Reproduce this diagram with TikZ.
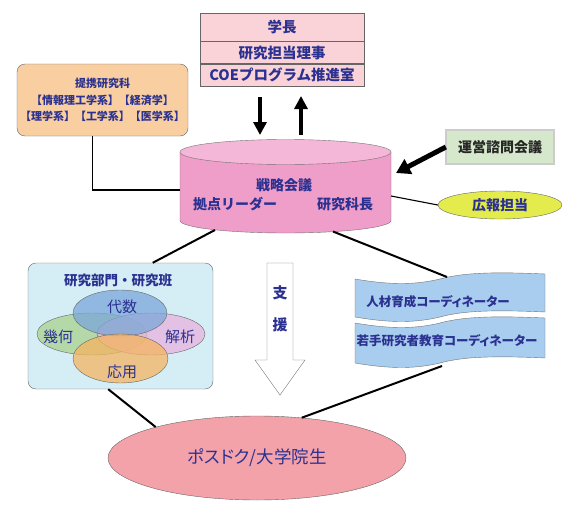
\documentclass[tikz,border=0pt]{standalone}
\usepackage{fontspec}
\setmainfont{Noto Sans CJK JP}
\newfontfamily\propjp{Noto Sans CJK JP}[RawFeature=+palt]
\usetikzlibrary{shapes.geometric,arrows.meta,calc}
\definecolor{navy}{HTML}{2B3190}
\definecolor{toppink}{HTML}{FAD3D8}
\definecolor{peach}{HTML}{F9CFA2}
\definecolor{cylbody}{HTML}{EF9DC9}
\definecolor{cyltop}{HTML}{F5B7D7}
\definecolor{sage}{HTML}{D5E8CB}
\definecolor{lemon}{HTML}{E3EC4C}
\definecolor{paleblue}{HTML}{D5EEF5}
\definecolor{tapeblue}{HTML}{A8CDEE}
\definecolor{salmon}{HTML}{F4A2A9}
\definecolor{vblue}{HTML}{7BA7D9}
\definecolor{vgreen}{HTML}{A9D18E}
\definecolor{vpink}{HTML}{E9B3DF}
\definecolor{vorange}{HTML}{F5B461}
\begin{document}
\begin{tikzpicture}[x=1pt,y=-1pt,
  jp/.style={text=navy,inner sep=0pt,font=\bfseries\fontsize{#1}{#1}\selectfont},
  jp/.default=14,
  rowbox/.style={draw=black!60,fill=toppink,minimum width=164pt,anchor=north,jp=14.5},
  rbox/.style={draw=black!60,rounded corners=8pt,inner sep=0pt},
  venn/.style={draw=black!60,fill opacity=0.75},
  fat/.style={line width=3.3pt,-{Triangle[length=13pt,width=13pt]}},
  link/.style={line width=2pt},
  thin link/.style={line width=1.1pt}]
\useasboundingbox (0,0) rectangle (574,525);
% top office
\node[rowbox,minimum height=28pt] (gakucho) at (282,13) {学長};
\node[rowbox,minimum height=22pt] (riji) at (gakucho.south) {研究担当理事};
\node[rowbox,minimum height=22pt] (coe) at (riji.south) {COEプログラム推進室};
\coordinate (dnT) at (260,97); \coordinate (dnB) at (260,135);
\coordinate (upB) at (301,135); \coordinate (upT) at (301,96);
\draw[fat] (dnT) -- (dnB);
\draw[fat] (upB) -- (upT);
% cylinder
\fill[cylbody] (180,152) -- (180,220.5) arc[start angle=180,end angle=0,x radius=105.5,y radius=12.5] -- (391,152) -- cycle;
\draw[black!55] (180,152) -- (180,220.5) arc[start angle=180,end angle=0,x radius=105.5,y radius=12.5] -- (391,152);
\draw[black!55,fill=cyltop] (285.5,152) ellipse[x radius=105.5,y radius=12.5];
\node[jp] (senryaku) at (284,185) {戦略会議};
\node[jp] (kyoten) at (235,204) {拠点リーダー};
\node[jp] (kachou) at (345,204) {研究科長};
\coordinate (cylW) at (180,190); \coordinate (cylE) at (391,196);
\coordinate (cylNE) at (396,173);
\coordinate (cylSW) at (215,230); \coordinate (cylSE) at (333,231.5);
% partner schools
\node[rbox,fill=peach,minimum width=171pt,minimum height=72pt,align=center,
  jp=11,font=\bfseries\fontsize{11}{16.5}\selectfont] (teikei) at (102.5,100)
  {提携研究科\\【情報理工学系】【経済学】\\【理学系】【工学系】【医学系】};
\draw[thin link] ([xshift=-10pt]teikei.south) |- (cylW);
% advisory board
\node[draw=black!70,double=black!20,double distance=1.5pt,fill=sage,minimum width=108pt,
  minimum height=34pt,jp,text=black!85] (unei) at (500,147) {運営諮問会議};
\draw[line width=5pt,-{Triangle[length=14pt,width=16pt]}] (unei.west) -- (cylNE);
\node[ellipse,draw=black!60,fill=lemon,minimum width=124pt,minimum height=28pt,jp] (kouhou) at (500,205) {広報担当};
\draw[thin link] (cylE) -- (kouhou.west);
% research groups
\node[rbox,fill=paleblue,minimum width=185pt,minimum height=126pt] (bumon) at (120.5,326) {};
\node[jp=13.5] (bumonT) at (118,280) {研究部門・研究班};
\draw[venn,fill=vgreen] (92,334) ellipse[x radius=55,y radius=21];
\draw[venn,fill=vpink] (151,334) ellipse[x radius=54,y radius=21];
\draw[venn,fill=vblue] (120,313) ellipse[x radius=47,y radius=23];
\draw[venn,fill=vorange] (120.5,358.5) ellipse[x radius=47.5,y radius=24.5];
\node[jp=15,font=\fontsize{15}{15}\selectfont] (daisu) at (122,307) {代数};
\node[jp=15,font=\fontsize{15}{15}\selectfont] (kika) at (58,337) {幾何};
\node[jp=15,font=\fontsize{15}{15}\selectfont] (kaiseki) at (180,337) {解析};
\node[jp=15,font=\fontsize{15}{15}\selectfont] (ouyou) at (122,372) {応用};
% support arrow
\draw[black!55,fill=white] (267,263) -- (293,263) -- (293,360) -- (305,360) -- (280,395)
  -- (255,360) -- (267,360) -- cycle;
\node[jp=15,align=center,font=\bfseries\fontsize{15}{32}\selectfont] (shien) at (280,309) {支\\援};
% coordinators
\foreach \t/\b in {279/317,323/363}
  \draw[black!55,fill=tapeblue] (355,\t) .. controls (390,\t+6) and (415,\t+6) .. (440,\t)
    .. controls (465,\t-7) and (500,\t-7) .. (545,\t-5) -- (545,\b-5)
    .. controls (500,\b-7) and (465,\b-7) .. (440,\b)
    .. controls (415,\b+6) and (390,\b+6) .. (355,\b) -- cycle;
\node[jp=12.5,font=\propjp\bfseries\fontsize{12.5}{12.5}\selectfont] (jinzai) at (438,302) {人材育成コーディネーター};
\node[jp=12.5,font=\propjp\bfseries\fontsize{12.5}{12.5}\selectfont] (wakate) at (447,341) {若手研究者教育コーディネーター};
\coordinate (tapeN) at (447,277); \coordinate (tapeS) at (442,366);
% postdocs
\node[ellipse,draw=black!60,fill=salmon,minimum width=298pt,minimum height=84pt,
  jp=17.5,font=\propjp\fontsize{17.5}{17.5}\selectfont] (post) at (257,458) {ポスドク/大学院生};
% links
\draw[link] (cylSW) -- (bumon.63);
\draw[link] (cylSE) -- (tapeN);
\draw[link] (bumon.259) -- (post.163);
\draw[link] (tapeS) -- (post.42);
\end{tikzpicture}
\end{document}
